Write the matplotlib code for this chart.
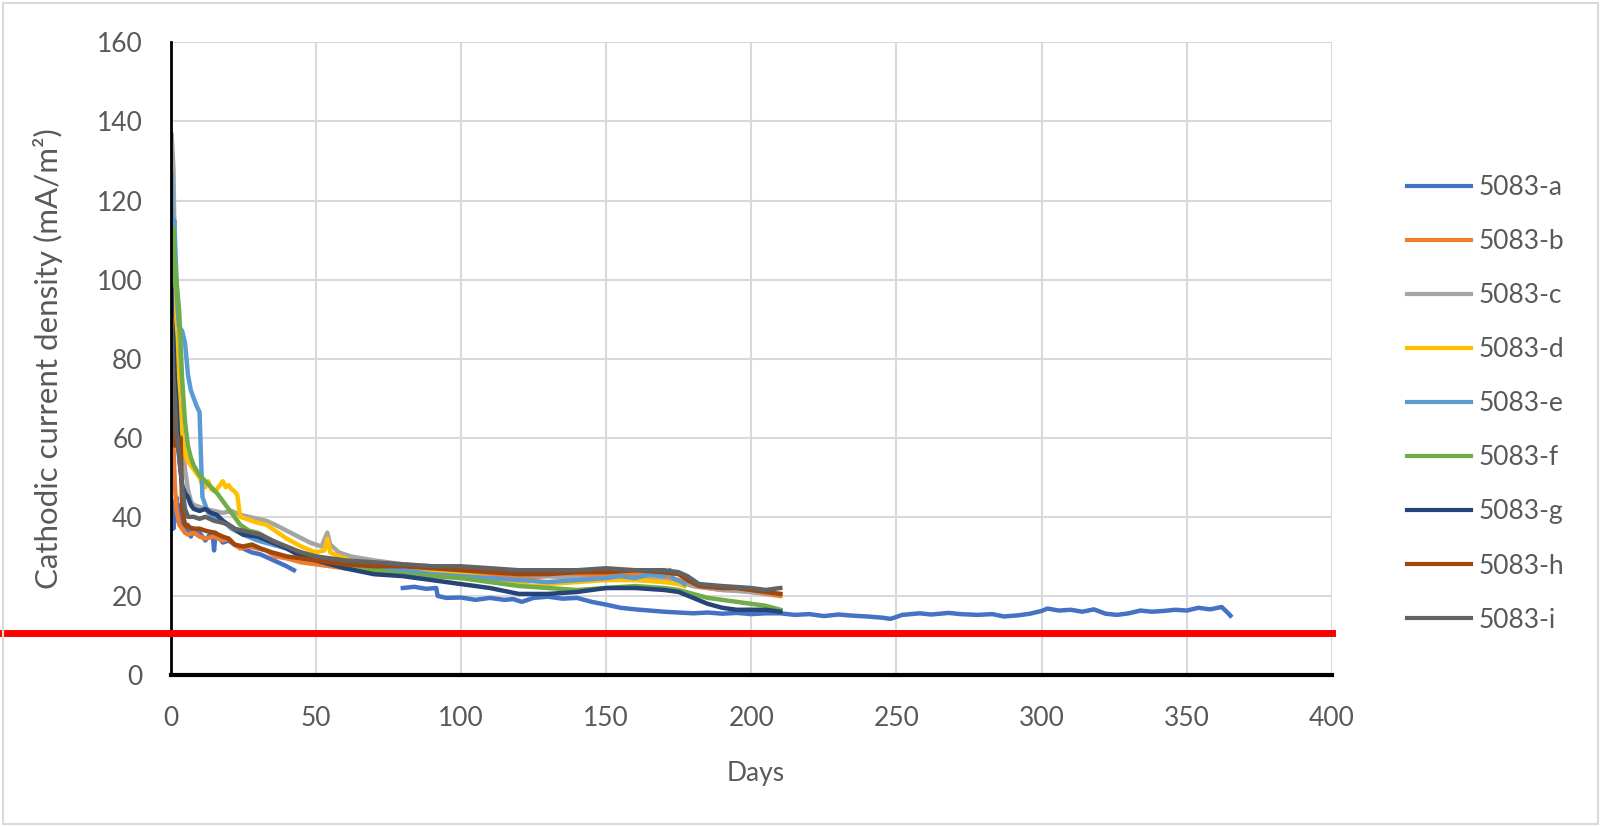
import numpy as np
import matplotlib
matplotlib.use("Agg")
import matplotlib.pyplot as plt
from matplotlib.patches import Rectangle

nan = np.nan

# series: days / current density (mA/m2)
a_days = [0, 0.5, 1, 1.5, 2, 2.5, 3, 3.5, 4, 5, 6, 7, 8, 9, 10, 12, 14, 14.5, 15, 15.5, 18, 20, 22, 25, 28, 31, 34, 37, 40, 42.5,
          43, 80, 84, 88, 91.5, 92, 95, 100, 105, 110, 115, 118, 121, 125, 130, 135, 140, 145, 150, 155, 160, 165, 170,
          175, 180, 185, 190, 195, 200, 205, 210, 215, 220, 225, 230, 235, 240, 245, 248, 252, 258, 262, 268, 272, 278,
          283, 287, 292, 296, 300, 302, 306, 310, 314, 318, 322, 326, 330, 334, 338, 342, 346, 350, 354, 358, 362, 364, 365]
a_vals = [40, 44, 37, 42, 45, 39, 41, 43, 38, 36, 38, 35, 37, 36, 36, 34, 36, 36, 31.5, 36, 33.5, 34, 33, 32, 31, 30.5, 29.5, 28.5, 27.5, 26.5,
          nan, 22, 22.3, 21.8, 22, 20, 19.5, 19.6, 19, 19.5, 19, 19.2, 18.5, 19.5, 19.8, 19.3, 19.5, 18.5, 17.8, 17, 16.6, 16.3, 16,
          15.8, 15.6, 15.8, 15.5, 15.7, 15.4, 15.6, 15.6, 15.2, 15.4, 14.9, 15.3, 15.0, 14.8, 14.5, 14.2, 15.2, 15.6, 15.3, 15.7, 15.4, 15.2,
          15.4, 14.8, 15.1, 15.5, 16.2, 16.8, 16.3, 16.5, 16.0, 16.6, 15.5, 15.2, 15.6, 16.3, 16.0, 16.2, 16.5, 16.3, 17.0, 16.6, 17.2, 15.8, 15.0]

b_days = [0, 0.3, 0.8, 1.5, 2, 3, 4, 5, 6, 8, 10, 12, 15, 18, 20, 22, 24, 27, 30, 33, 36, 40, 45, 50, 55, 60, 70, 80, 90,
          100, 110, 120, 130, 140, 150, 160, 170, 175, 180, 185, 190, 195, 200, 205, 210]
b_vals = [55, 80, 62, 48, 42, 38, 37, 36, 35.5, 36, 35, 34.5, 35, 34, 34.5, 33, 32, 32.5, 32, 31.5, 30, 29.5, 28.5, 28, 27.5, 27,
          26.5, 26.5, 26, 25.5, 25, 24.5, 25, 25, 25.5, 25.5, 25, 24, 22.5, 22, 21.5, 21.5, 21, 20.5, 20]

c_days = [0, 0.3, 0.6, 1, 1.5, 2, 3, 4, 5, 6, 7, 8, 10, 12, 15, 18, 21, 24, 27, 30, 33, 36, 40, 44, 48, 52, 54, 55, 58, 62,
          70, 80, 90, 100, 110, 120, 130, 140, 150, 160, 170, 175, 180, 190, 200, 210]
c_vals = [110, 137, 134, 128, 105, 85, 70, 60, 52, 47, 44, 43, 42.5, 42, 41.5, 41, 41.5, 40.5, 40, 39.5, 39, 38, 36.5, 35, 33.5,
          32.5, 36, 33, 31, 30, 29, 28, 27.5, 27, 26.5, 25.5, 25, 24.5, 24, 24.5, 24, 23.5, 22.5, 21.5, 21, 20.5]

d_days = [0, 0.5, 1, 2, 3, 4, 5, 6, 7, 8, 9, 10, 11, 12, 13, 14, 15, 16, 17, 18, 19, 20, 21, 22, 23, 24, 26, 28, 30, 33, 36,
          40, 45, 50, 53, 54, 55, 58, 62, 70, 80, 90, 100, 110, 120, 125, 130, 140, 150, 160, 170, 175, 177]
d_vals = [75, 105, 95, 80, 68, 60, 56, 54, 53, 52, 51, 50, 48, 47.5, 49, 47, 46.5, 47, 48, 49, 47.5, 48, 47, 46.5, 45.5, 40,
          39.5, 39, 38.5, 38, 36.5, 34.5, 32.5, 31, 31.5, 34.5, 31, 30, 29, 28, 27, 26, 25.5, 24.5, 23, 22.5, 23, 23.5, 24, 24,
          23.5, 23, 22.5]

e_days = [0, 0.3, 0.8, 1.3, 1.8, 2.5, 3, 4, 5, 6, 7, 8, 9, 10, 10.5, 11, 12, 13, 15, 18, 21, 25, 30, 35, 40, 45, 50, 55, 60,
          70, 80, 90, 100, 110, 120, 130, 140, 150, 155, 160, 165, 170, 172, 173, 176, 177]
e_vals = [90, 127, 110, 115, 105, 92, 88, 87, 84, 76, 72, 70, 68, 66.5, 55, 45, 43, 41, 40, 39, 37, 35.5, 34, 33, 32, 31, 30,
          29, 28.5, 27.5, 26.5, 25.5, 25, 24.5, 24, 23.5, 24, 24.5, 25, 24.5, 25.5, 25, 26.5, 24.5, 23.5, 23]

f_days = [0, 0.5, 1, 1.5, 2, 3, 4, 5, 6, 7, 8, 10, 12, 14, 16, 18, 20, 22, 24, 27, 30, 35, 40, 45, 50, 55, 60, 70, 80, 90,
          100, 110, 120, 130, 140, 150, 160, 170, 175, 180, 185, 190, 195, 200, 205, 210]
f_vals = [65, 95, 113, 105, 100, 92, 75, 64, 58, 55, 53, 50.5, 49, 47.5, 46, 44, 42, 40, 38, 36.5, 36, 34, 32, 30.5, 29.5,
          28.5, 27.5, 26.5, 25.5, 25, 24.5, 23.5, 22.5, 22, 21.5, 22, 22.5, 22, 21.5, 20.5, 19.5, 19, 18.5, 18, 17.5, 16.5]

g_days = [0, 0.2, 0.5, 1, 1.5, 2, 2.5, 3, 4, 5, 6, 7, 8, 10, 12, 14, 16, 18, 20, 22, 25, 30, 35, 40, 45, 50, 55, 60, 70, 80,
          90, 100, 110, 120, 125, 130, 140, 145, 150, 160, 170, 175, 180, 185, 190, 195, 200, 205, 210]
g_vals = [80, 98, 90, 85, 75, 70, 62, 55, 48, 46, 45, 43, 42, 41.5, 42, 41, 40.5, 39, 38, 37, 35.5, 35, 33.5, 32, 30, 29, 28,
          27, 25.5, 25, 24, 23, 22, 20.5, 20.5, 20.5, 21, 21.5, 22, 22, 21.5, 21, 19.5, 18, 17, 16.5, 16.5, 16.5, 16]

h_days = [0, 0.2, 0.5, 1, 1.5, 2, 3, 3.5, 4, 5, 6, 8, 10, 12, 15, 18, 20, 22, 25, 28, 31, 35, 40, 45, 50, 55, 60, 70, 80, 90,
          100, 110, 120, 130, 140, 150, 160, 170, 175, 178, 182, 190, 195, 200, 205, 210]
h_vals = [70, 83, 75, 62, 58, 60, 56, 60, 42, 38, 37.5, 37, 37, 36.5, 36, 35, 34.5, 33, 32.5, 33, 32, 31, 30, 29.5, 29, 28.5,
          28, 27.5, 27.5, 27, 26.5, 26, 25.5, 25.5, 26, 26, 26.5, 26, 25.5, 24, 22.5, 22, 22, 21.5, 21, 20.5]

i_days = [0, 0.3, 0.6, 1, 1.5, 2, 3, 4, 5, 6, 8, 10, 12, 15, 18, 20, 22, 25, 28, 31, 35, 40, 45, 50, 55, 60, 70, 80, 90, 100,
          110, 120, 130, 140, 150, 160, 170, 175, 178, 182, 190, 200, 205, 210]
i_vals = [60, 90, 82, 75, 70, 62, 55, 48, 42, 40, 40, 39.5, 40, 39, 38.5, 38, 37, 36.5, 36, 35.5, 34, 32.5, 31, 30, 29.5, 29,
          28.5, 28, 27.5, 27.5, 27, 26.5, 26.5, 26.5, 27, 26.5, 26.5, 26, 25, 23, 22.5, 22, 21.5, 22]

labels = ['5083-a', '5083-b', '5083-c', '5083-d', '5083-e', '5083-f', '5083-g', '5083-h', '5083-i']
colors = ['#4472C4', '#ED7D31', '#A5A5A5', '#FFC000', '#5B9BD5', '#70AD47', '#264478', '#9E480E', '#636363']
series = [(a_days, a_vals), (b_days, b_vals), (c_days, c_vals), (d_days, d_vals), (e_days, e_vals),
          (f_days, f_vals), (g_days, g_vals), (h_days, h_vals), (i_days, i_vals)]

limit_value = 10.7

plt.rcParams['font.family'] = ['Lato', 'DejaVu Sans']
txt = '#595959'
grid = '#D9D9D9'

fig = plt.figure(figsize=(16.01, 8.27), dpi=100)
ax = fig.add_axes([0.1065, 0.1838, 0.7255, 0.765])

for (x, y), lab, col in zip(series, labels, colors):
    ax.plot(x, y, color=col, lw=3.2, label=lab, solid_joinstyle='round')

# red reference line running out to the left edge of the figure
ax.plot([-0.147, 1.0], [limit_value, limit_value], color='#FF0000', lw=5,
        transform=ax.get_yaxis_transform(), clip_on=False, zorder=5)

ax.set_xlim(0, 400)
ax.set_ylim(0, 160)
ax.set_xticks(np.arange(0, 401, 50))
ax.set_yticks(np.arange(0, 161, 20))
ax.grid(True, color=grid, lw=1.5)
ax.set_axisbelow(True)
for s in ['top', 'right']:
    ax.spines[s].set_visible(False)
ax.spines['left'].set_linewidth(2)
ax.spines['bottom'].set_linewidth(3)
ax.tick_params(axis='both', length=0, labelsize=19, labelcolor=txt)
ax.tick_params(axis='x', pad=22)
ax.tick_params(axis='y', pad=20)

ax.set_xlabel('Days', fontsize=19, color=txt)
ax.set_ylabel('Cathodic current density (mA/m²)', fontsize=22.5, color=txt)
ax.xaxis.set_label_coords(0.5037, -0.136)
ax.yaxis.set_label_coords(-0.0925, 0.5)

leg = fig.legend(loc='upper left', bbox_to_anchor=(0.879, 0.788), frameon=False, fontsize=19,
                 handlelength=2.4, handletextpad=0.3, labelspacing=1.1, borderaxespad=0, borderpad=0)
for t in leg.get_texts():
    t.set_color(txt)
for h in leg.get_lines():
    h.set_linewidth(3)

fig.patches.append(Rectangle((0.002, 0.004), 0.996, 0.992, transform=fig.transFigure,
                             fill=False, edgecolor=grid, lw=1.5))

fig.savefig('out.png', dpi=100)
